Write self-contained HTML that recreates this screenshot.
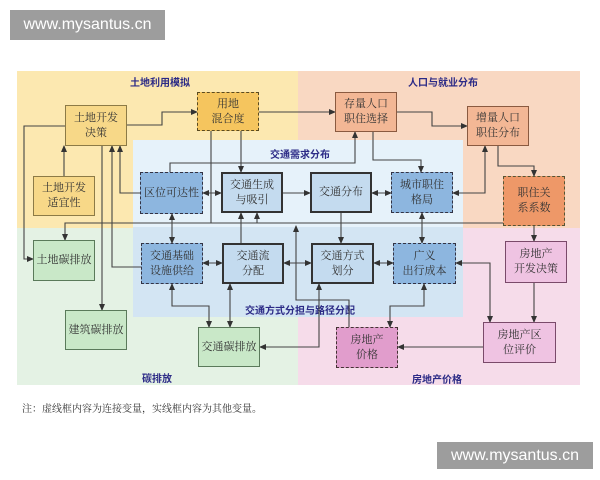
<!DOCTYPE html>
<html><head><meta charset="utf-8"><style>
body{margin:0;width:600px;height:480px;background:#fff;position:relative;overflow:hidden;font-family:"Liberation Sans","Noto Sans CJK SC",sans-serif}
.r{position:absolute}
.b{position:absolute;box-sizing:border-box;display:flex;align-items:center;justify-content:center;text-align:center;font-family:"Liberation Serif","Noto Serif CJK SC",serif;font-size:11px;line-height:15px;color:#333}
.lab{position:absolute;font-size:10px;font-weight:bold;color:#2b2a86;transform:translateX(-50%);white-space:nowrap}
.y{background:#f7d888;border:1.5px solid #8c7a46}
.yd{background:#f5c55e;border:1.5px dashed #5a4a20}
.bs{background:#c4dbef;border:2px solid #333}
.bd{background:#8db6df;border:1.5px dashed #334}
.p{background:#f3b795;border:1.5px solid #8a5a40}
.pd{background:#ee9868;border:1.5px dashed #553}
.k{background:#efc3e2;border:1.5px solid #7a4a6a}
.kd{background:#e19dcc;border:1.5px dashed #433}
.g{background:#c9e8c8;border:1.5px solid #5a7a5a}
.wm{position:absolute;background:#9d9d9d;color:#fff;font-size:16px;display:flex;align-items:center;justify-content:center}
</style></head><body>
<div class="wm" style="left:10px;top:10px;width:155px;height:30px">www.mysantus.cn</div>
<div class="wm" style="left:437px;top:442px;width:156px;height:27px">www.mysantus.cn</div>

<div class="r" style="left:17px;top:71px;width:281px;height:157px;background:#fce8b0"></div>
<div class="r" style="left:298px;top:71px;width:282px;height:157px;background:#f9d8c2"></div>
<div class="r" style="left:17px;top:228px;width:281px;height:157px;background:#e4f2e4"></div>
<div class="r" style="left:298px;top:228px;width:282px;height:157px;background:#f6dcea"></div>
<div class="r" style="left:133px;top:140px;width:330px;height:87px;background:#e6f2fa"></div>
<div class="r" style="left:133px;top:227px;width:330px;height:90px;background:#d3e5f3"></div>

<div class="lab" style="left:160px;top:74px">土地利用模拟</div>
<div class="lab" style="left:443px;top:74px">人口与就业分布</div>
<div class="lab" style="left:300px;top:146px">交通需求分布</div>
<div class="lab" style="left:300px;top:302px">交通方式分担与路径分配</div>
<div class="lab" style="left:157px;top:370px">碳排放</div>
<div class="lab" style="left:437px;top:371px">房地产价格</div>

<svg class="r" style="left:0;top:0" width="600" height="480">
<defs><marker id="a" markerWidth="7" markerHeight="7" refX="6" refY="3.5" orient="auto-start-reverse" markerUnits="userSpaceOnUse"><path d="M0,0.5L7,3.5L0,6.5z" fill="#333"/></marker></defs>
<g fill="none" stroke="#444" stroke-width="1.1">
<polyline points="127,125 162,125 162,112 197,112" marker-end="url(#a)"/>
<polyline points="259,112 335,112" marker-end="url(#a)"/>
<polyline points="397,112 432,112 432,126 467,126" marker-end="url(#a)"/>
<polyline points="498,146 498,166 534,166 534,176" marker-end="url(#a)"/>
<polyline points="64,176 64,146" marker-end="url(#a)"/>
<polyline points="140,193 120,193 120,146" marker-end="url(#a)"/>
<polyline points="503,223 65,223 65,240" marker-end="url(#a)"/>
<polyline points="141,267 112,267 112,146" marker-end="url(#a)"/>
<polyline points="65,126 24,126 24,259 33,259" marker-end="url(#a)"/>
<polyline points="102,146 102,310" marker-end="url(#a)"/>
<polyline points="211,131 211,223"/>
<polyline points="241,131 241,172" marker-end="url(#a)"/>
<polyline points="170,172 170,163 355,163 355,132" marker-end="url(#a)"/>
<polyline points="373,132 373,160 421,160 421,172" marker-end="url(#a)"/>
<polyline points="453,193 485,193 485,146" marker-start="url(#a)" marker-end="url(#a)"/>
<polyline points="203,193 221,193" marker-start="url(#a)" marker-end="url(#a)"/>
<polyline points="283,193 310,193" marker-end="url(#a)"/>
<polyline points="372,193 391,193" marker-start="url(#a)" marker-end="url(#a)"/>
<polyline points="172,214 172,243" marker-start="url(#a)" marker-end="url(#a)"/>
<polyline points="241,243 241,213" marker-end="url(#a)"/>
<polyline points="257,223 257,213" marker-end="url(#a)"/>
<polyline points="341,213 341,243" marker-end="url(#a)"/>
<polyline points="422,213 422,243" marker-start="url(#a)" marker-end="url(#a)"/>
<polyline points="203,263 222,263" marker-start="url(#a)" marker-end="url(#a)"/>
<polyline points="284,263 311,263" marker-start="url(#a)" marker-end="url(#a)"/>
<polyline points="374,263 393,263" marker-start="url(#a)" marker-end="url(#a)"/>
<polyline points="456,263 490,263 490,322" marker-start="url(#a)" marker-end="url(#a)"/>
<polyline points="534,226 534,241" marker-end="url(#a)"/>
<polyline points="534,283 534,322" marker-end="url(#a)"/>
<polyline points="483,347 398,347" marker-end="url(#a)"/>
<polyline points="390,327 390,306 424,306 424,284" marker-start="url(#a)" marker-end="url(#a)"/>
<polyline points="319,284 319,347 260,347" marker-start="url(#a)" marker-end="url(#a)"/>
<polyline points="172,284 172,306 209,306 209,327" marker-start="url(#a)" marker-end="url(#a)"/>
<polyline points="230,284 230,327" marker-start="url(#a)" marker-end="url(#a)"/>
<polyline points="349,327 349,300 296,300 296,226" marker-end="url(#a)"/>
</g></svg>

<div class="b y" style="left:65px;top:105px;width:62px;height:41px">土地开发<br>决策</div>
<div class="b yd" style="left:197px;top:92px;width:62px;height:39px">用地<br>混合度</div>
<div class="b y" style="left:33px;top:176px;width:62px;height:40px">土地开发<br>适宜性</div>
<div class="b bd" style="left:140px;top:172px;width:63px;height:42px">区位可达性</div>
<div class="b bs" style="left:221px;top:172px;width:62px;height:41px">交通生成<br>与吸引</div>
<div class="b bs" style="left:310px;top:172px;width:62px;height:41px">交通分布</div>
<div class="b bd" style="left:391px;top:172px;width:62px;height:41px">城市职住<br>格局</div>
<div class="b p" style="left:335px;top:92px;width:62px;height:40px">存量人口<br>职住选择</div>
<div class="b p" style="left:467px;top:106px;width:62px;height:40px">增量人口<br>职住分布</div>
<div class="b pd" style="left:503px;top:176px;width:62px;height:50px">职住关<br>系系数</div>
<div class="b k" style="left:505px;top:241px;width:62px;height:42px">房地产<br>开发决策</div>
<div class="b k" style="left:483px;top:322px;width:73px;height:41px">房地产区<br>位评价</div>
<div class="b kd" style="left:336px;top:327px;width:62px;height:41px">房地产<br>价格</div>
<div class="b g" style="left:198px;top:327px;width:62px;height:40px">交通碳排放</div>
<div class="b g" style="left:65px;top:310px;width:62px;height:40px">建筑碳排放</div>
<div class="b g" style="left:33px;top:240px;width:62px;height:41px">土地碳排放</div>
<div class="b bd" style="left:141px;top:243px;width:62px;height:41px">交通基础<br>设施供给</div>
<div class="b bs" style="left:222px;top:243px;width:62px;height:41px">交通流<br>分配</div>
<div class="b bs" style="left:311px;top:243px;width:63px;height:41px">交通方式<br>划分</div>
<div class="b bd" style="left:393px;top:243px;width:63px;height:41px">广义<br>出行成本</div>

<div class="r" style="left:22px;top:400px;font-size:10px;color:#333;font-family:'Liberation Serif','Noto Serif CJK SC',serif">注：虚线框内容为连接变量，实线框内容为其他变量。</div>
</body></html>
